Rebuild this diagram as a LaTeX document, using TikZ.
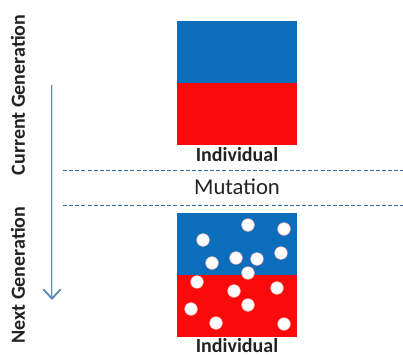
\documentclass[tikz,border=0pt]{standalone}
\usepackage{fontspec}
\setmainfont{Carlito}
\usetikzlibrary{arrows.meta,positioning}
\definecolor{chromblue}{HTML}{0A6EBD}
\definecolor{chromred}{HTML}{FA0A0A}
\definecolor{arrowblue}{HTML}{5A88B5}
\definecolor{dashblue}{HTML}{3F6A94}
\definecolor{inktext}{HTML}{222222}
\tikzset{
  genebox/.style={minimum width=90pt, minimum height=46.5pt, inner sep=0pt, outer sep=0pt},
  bluebox/.style={genebox, fill=chromblue},
  redbox/.style={genebox, fill=chromred},
  indtext/.style={font=\fontsize{15}{16}\selectfont\bfseries, text=inktext, inner sep=1pt},
  gentext/.style={font=\fontsize{15}{16}\selectfont\bfseries, text=inktext, rotate=90},
  mutdot/.style={circle, fill=white, draw=red!30, line width=0.4pt, minimum size=9.5pt, inner sep=0pt},
  sepline/.style={draw=dashblue, line width=0.75pt, dash pattern=on 3pt off 1.6pt},
  genarr/.style={draw=arrowblue, line width=0.5pt, double=arrowblue!25, double distance=0.7pt,
    -{Straight Barb[length=7pt, width=13pt, line width=1.4pt]}}
}
\begin{document}
\begin{tikzpicture}[x=0.75pt, y=-0.75pt]
  \useasboundingbox (0,0) rectangle (403,354);
  \node[bluebox] (topblue) at (237,52) {};
  \node[redbox, below=0pt of topblue] (topred) {};
  \node[indtext, below=0.5pt of topred] (indtop) {Individual};
  \node[bluebox] (botblue) at (237,243.5) {};
  \node[redbox, below=0pt of botblue] (botred) {};
  \node[indtext, below=0.5pt of botred] (indbot) {Individual};
  \node[font=\fontsize{17}{18}\selectfont, text=inktext] (mut) at (237,187) {Mutation};
  \coordinate (dashAl) at (63,170);
  \coordinate (dashAr) at (403,170);
  \coordinate (dashBl) at (63,205);
  \coordinate (dashBr) at (403,205);
  \draw[sepline] (dashAl) -- (dashAr);
  \draw[sepline] (dashBl) -- (dashBr);
  \foreach \px/\py [count=\i] in {248/225, 284/229, 203/240, 281/253, 236/258, 257/259,
      212/263, 248/273, 197/282, 277/288, 234/291, 248/305, 191/309, 216/323, 284/324}
    \node[mutdot] (dot\i) at (\px,\py) {};
  \node[gentext] (curgen) at (18,95) {Current Generation};
  \node[gentext] (nextgen) at (18,275) {Next Generation};
  \coordinate (arrtop) at (52,85);
  \coordinate (arrtip) at (52,300);
  \draw[genarr] (arrtop) -- (arrtip);
\end{tikzpicture}
\end{document}
